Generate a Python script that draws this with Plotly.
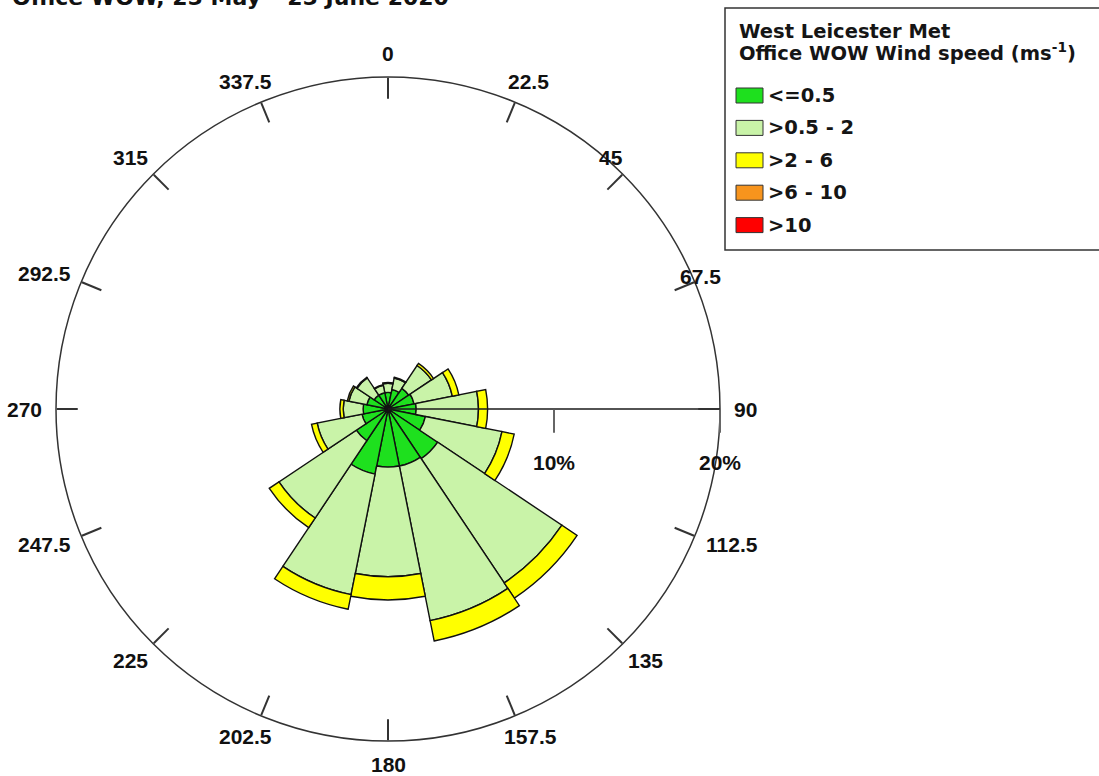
import math
import plotly.graph_objects as go

# Wind direction sectors (degrees from north) and their axis labels
directions = [0, 22.5, 45, 67.5, 90, 112.5, 135, 157.5,
              180, 202.5, 225, 247.5, 270, 292.5, 315, 337.5]
direction_labels = ["0", "22.5", "45", "67.5", "90", "112.5", "135", "157.5",
                    "180", "202.5", "225", "247.5", "270", "292.5", "315", "337.5"]

# Frequency (% of observations) per direction for each wind speed class
speed_le_0_5 = [1.0, 1.2, 1.5, 1.6, 1.7, 2.3, 3.6, 3.5,
                3.5, 4.0, 2.3, 1.6, 1.5, 1.3, 1.0, 1.0]
speed_0_5_2 = [0.55, 0.7, 1.65, 2.35, 3.75, 4.7, 9.0, 9.5,
               6.6, 7.4, 5.6, 2.75, 1.2, 1.1, 1.25, 0.45]
speed_2_6 = [0.05, 0.05, 0.15, 0.4, 0.55, 0.75, 1.1, 1.25,
             1.4, 0.9, 0.7, 0.35, 0.2, 0.1, 0.05, 0.05]
speed_6_10 = [0, 0, 0, 0, 0, 0, 0, 0, 0, 0, 0, 0, 0, 0, 0, 0]
speed_gt_10 = [0, 0, 0, 0, 0, 0, 0, 0, 0, 0, 0, 0, 0, 0, 0, 0]

speed_classes = ["<=0.5", ">0.5 - 2", ">2 - 6", ">6 - 10", ">10"]
class_colors = ["#1ee01e", "#c9f3a8", "#ffff00", "#f7941d", "#ff0000"]
class_values = [speed_le_0_5, speed_0_5_2, speed_2_6, speed_6_10, speed_gt_10]

radial_max = 20
radial_ticks = [10, 20]
radial_tick_text = ["10%", "20%"]

title_text = "Office WOW, 25 May \u2013 25 June 2020"
legend_title_lines = ["West Leicester Met", "Office WOW Wind speed (ms<sup>-1</sup>)"]

W, H = 1099, 776
LABEL_FONT = "Liberation Sans, Arial, sans-serif"
LEGEND_FONT = "DejaVu Sans, sans-serif"


def px(x):
    return x / W


def py(y):
    return 1 - y / H


fig = go.Figure()

for name, color, vals in zip(speed_classes, class_colors, class_values):
    fig.add_trace(go.Barpolar(
        r=vals, theta=directions, width=22.5, name=name,
        marker=dict(color=color, line=dict(color="#111111", width=1.4)),
        showlegend=False,
    ))

# Hub where the sector edges meet
fig.add_trace(go.Scatterpolar(
    r=[0], theta=[0], mode="markers",
    marker=dict(color="#111111", size=7), showlegend=False, hoverinfo="skip",
))

# Rose geometry in pixels: centre and radius of the outer (20%) ring
cx0, cy0, rad = 388, 409, 332

fig.update_layout(
    width=W, height=H,
    margin=dict(l=0, r=0, t=0, b=0),
    paper_bgcolor="white", plot_bgcolor="white",
    showlegend=False,
    polar=dict(
        domain=dict(x=[px(cx0 - rad), px(cx0 + rad)], y=[py(cy0 + rad), py(cy0 - rad)]),
        bgcolor="white",
        barmode="stack",
        radialaxis=dict(
            range=[0, radial_max], angle=0, tickvals=radial_ticks,
            ticks="outside", ticklen=23, tickwidth=1.5, tickcolor="#666666",
            showticklabels=False,
            showline=True, linecolor="#1a1a1a", linewidth=1.5, showgrid=False,
        ),
        angularaxis=dict(
            direction="clockwise", rotation=90,
            tickvals=directions, ticks="inside", ticklen=21, tickwidth=1.5,
            tickcolor="#333333", showticklabels=False,
            showline=True, linecolor="#333333", linewidth=1.5, showgrid=False,
        ),
    ),
)

label_font = dict(family=LABEL_FONT, size=21, color="#111111", weight="bold")
legend_font = dict(family=LEGEND_FONT, size=19.5, color="#151515", weight="bold")

annotations = [
    dict(text=title_text, x=px(10), y=py(-3), xref="paper", yref="paper",
         xanchor="left", yanchor="middle", showarrow=False,
         font=dict(family=LEGEND_FONT, size=22, color="#111111", weight="bold")),
]

# Compass labels just outside the ring, pushed out by half their size;
# the two labels beside the legend box are tucked in toward the ring
gap = 14
tucked = {"45": (611, 158), "67.5": (700, 276)}
for ang, lab in zip(directions, direction_labels):
    s, c = math.sin(math.radians(ang)), math.cos(math.radians(ang))
    w = sum(5.8 if ch == "." else 11.7 for ch in lab)
    h = 18
    x = cx0 + (rad + gap) * s + w / 2 * s
    y = cy0 - (rad + gap) * c - h / 2 * c
    if lab in tucked:
        x, y = tucked[lab]
    annotations.append(dict(text=lab, x=px(x), y=py(y), xref="paper", yref="paper",
                            xanchor="center", yanchor="middle", showarrow=False,
                            font=label_font))

# Radial scale labels under the east-pointing axis line
for v, lab in zip(radial_ticks, radial_tick_text):
    x = cx0 + v / radial_max * rad
    annotations.append(dict(text=lab, x=px(x), y=py(cy0 + 53), xref="paper", yref="paper",
                            xanchor="center", yanchor="middle", showarrow=False,
                            font=label_font))

shapes = [
    dict(type="rect", xref="paper", yref="paper",
         x0=px(725), x1=px(1106), y0=py(250), y1=py(8),
         line=dict(color="#333333", width=1.5), fillcolor="white", layer="below"),
]

for i, line in enumerate(legend_title_lines):
    annotations.append(dict(
        text=line, x=px(737), y=py(32 + 20 * i), xref="paper", yref="paper",
        xanchor="left", yanchor="middle", showarrow=False, font=legend_font))

for i, (name, color) in enumerate(zip(speed_classes, class_colors)):
    yc = 95.5 + 32.4 * i
    shapes.append(dict(type="rect", xref="paper", yref="paper",
                       x0=px(736), x1=px(763), y0=py(yc + 7.5), y1=py(yc - 7.5),
                       line=dict(color="#333333", width=1), fillcolor=color))
    annotations.append(dict(
        text=name, x=px(766), y=py(yc), xref="paper", yref="paper",
        xanchor="left", yanchor="middle", showarrow=False, font=legend_font))

fig.update_layout(annotations=annotations, shapes=shapes)
fig.write_html("out.html")
